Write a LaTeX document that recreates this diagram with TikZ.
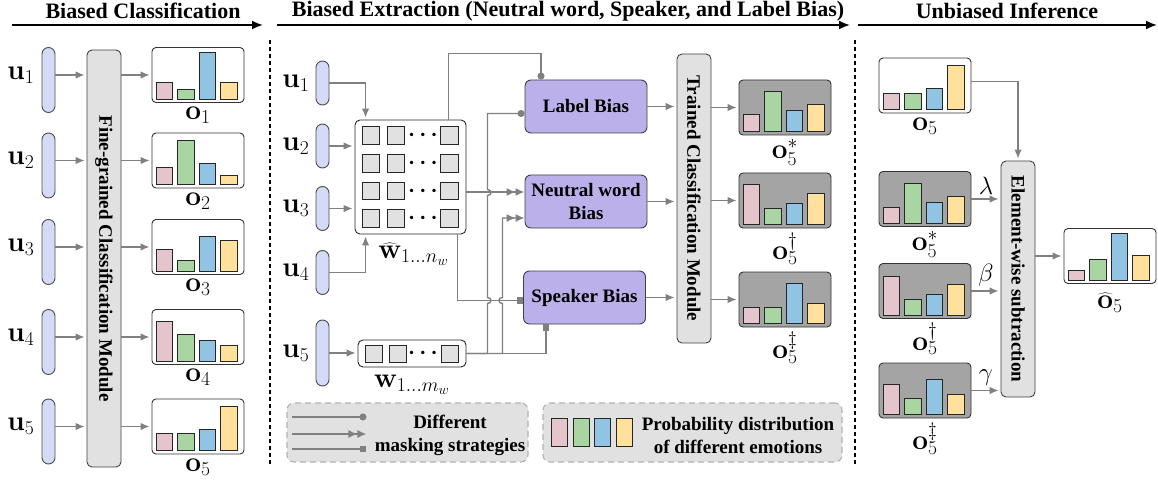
\RequirePackage{fix-cm}
\documentclass[tikz,border=0pt]{standalone}
\usepackage[no-math]{fontspec}
\setmainfont{Liberation Serif}
\usetikzlibrary{positioning, calc, arrows.meta}

\definecolor{pillblue}{HTML}{D4DBF6}
\definecolor{biaspurple}{HTML}{BBB0EA}
\definecolor{modgray}{HTML}{E1E1E1}
\definecolor{chartgray}{HTML}{A4A4A4}
\definecolor{linegray}{HTML}{808080}
\definecolor{emoP}{HTML}{E5C5CC}
\definecolor{emoG}{HTML}{A8D5A1}
\definecolor{emoB}{HTML}{91C3E2}
\definecolor{emoY}{HTML}{FFE09C}

% four emotion bars inside a chart node
\newcommand{\emobars}[5]{%
  \foreach \h/\col [count=\i from 0] in {#2/emoP,#3/emoG,#4/emoB,#5/emoY}
    \draw[bar, fill=\col] ($(#1.south west)+(4.5+21.5*\i,-4)$) rectangle ++(16.5,-\h);%
}

\begin{document}
\begin{tikzpicture}[x=1pt, y=-1pt,
  every node/.style={font=\fontsize{19}{23}\selectfont\bfseries},
  lab/.style={font=\fontsize{28}{30}\selectfont, inner sep=0pt},
  dots/.style={font=\fontsize{22}{24}\selectfont\boldmath, inner sep=0pt},
  greek/.style={font=\fontsize{25}{27}\selectfont, inner sep=1pt},
  ttl/.style={font=\fontsize{22}{24}\selectfont\bfseries},
  pill/.style={draw=black!70, fill=pillblue, rounded corners=6.5pt, minimum width=13pt, inner sep=0pt, line width=0.9pt},
  chart/.style={draw=black!80, fill=white, rounded corners=4pt, minimum width=92pt, minimum height=55pt, inner sep=0pt, line width=0.9pt},
  gchart/.style={chart, fill=chartgray},
  bar/.style={draw=black!85, line width=0.8pt},
  tok/.style={draw=black!85, fill=modgray, line width=0.8pt},
  module/.style={draw=black!75, fill=modgray, rounded corners=5pt, rotate=-90, minimum height=34pt, inner sep=0pt, line width=0.9pt},
  bias/.style={draw=black!75, fill=biaspurple, rounded corners=6pt, minimum width=122pt, minimum height=53pt, align=center, line width=0.9pt},
  legend/.style={draw=black!30, fill=modgray, dash pattern=on 6pt off 4pt, rounded corners=7pt, line width=1.1pt, minimum height=59pt},
  gline/.style={draw=linegray, line width=1.4pt},
  garrow/.style={gline, -{Latex[length=9pt,width=7.5pt]}, shorten >=2pt},
  dblarrow/.style={gline, -{Latex[length=9pt,width=8pt]Latex[length=9pt,width=8pt]}},
  dotend/.style={gline, -{Circle[length=7pt]}},
  sqend/.style={gline, -{Square[length=6.5pt]}},
  phase/.style={draw=black, line width=1.8pt, -{Latex[length=11pt,width=9pt]}},
  sep/.style={draw=black, line width=1.6pt, dash pattern=on 4pt off 3pt}]
\useasboundingbox (0,0) rectangle (1158,481);

% phase headers
\node[ttl] (ttl1) at (143,11) {Biased Classification};
\node[ttl] (ttl2) at (568,11) {Biased Extraction (Neutral word, Speaker, and Label Bias)};
\node[ttl] (ttl3) at (1007,11) {Unbiased Inference};
\coordinate (h0) at (12,25);  \coordinate (h1) at (263,25);
\coordinate (h2) at (277,25); \coordinate (h3) at (850,25);
\coordinate (h4) at (858,25); \coordinate (h5) at (1157,25);
\draw[phase] (h0) -- (h1);
\draw[phase] (h2) -- (h3);
\draw[phase] (h4) -- (h5);
\draw[sep] (270,40) -- (270,465);
\draw[sep] (855,40) -- (855,465);

% biased classification
\node[module, minimum width=417pt] (fcm) at (104,258.5) {Fine-grained Classification Module};
\foreach \i/\y in {1/75,2/160.5,3/247,4/337,5/426.5}{
  \node[pill, minimum height=65pt] (u\i) at (48.5,\y+5) {};
  \node[chart] (o\i) at (198,\y) {};
  \node[lab, below=4pt of o\i] (ol\i) {$\mathbf{o}_{\i}$};
  \path (u\i.west |- o\i) node[lab, left=7pt] (ul\i) {$\mathbf{u}_{\i}$};
  \draw[garrow] (u\i.east |- o\i) -- (fcm.south |- o\i);
  \draw[garrow] (fcm.north |- o\i) -- (o\i.west);
}
\emobars{o1}{16.7}{10}{47}{16.7}
\emobars{o2}{16.7}{44}{21}{9.3}
\emobars{o3}{21.7}{10.7}{35}{30.7}
\emobars{o4}{40}{26.7}{20.7}{15.7}
\emobars{o5}{16.7}{16.7}{21}{44.3}

% biased extraction
\foreach \i/\y/\h in {1/83/44,2/146/44,3/208.5/44,4/272.5/44,5/353/66}{
  \node[pill, minimum height=\h pt] (mu\i) at (322.5,\y) {};
  \node[lab, left=6pt of mu\i] (mul\i) {$\mathbf{u}_{\i}$};
}
\node[draw=black!85, fill=white, rounded corners=5pt, minimum width=111pt, minimum height=114pt, line width=0.9pt] (wmat) at (410.5,177) {};
\foreach \r in {0,...,3}{
  \foreach \dx in {-39.5,-14.5,39}
    \draw[tok] ($(wmat.center)+(\dx-8.75,-41.5+27.7*\r-8.75)$) rectangle ++(17.5,17.5);
  \node[dots] (dots\r) at ($(wmat.center)+(12.5,-41.5+27.7*\r)$) {$\cdots$};
}
\node[draw=black!85, fill=white, rounded corners=5pt, minimum width=108pt, minimum height=27pt, line width=0.9pt] (wseq) at (412,353.5) {};
\foreach \dx in {-38,-14,38}
  \draw[tok] ($(wseq.center)+(\dx-8.5,-8.5)$) rectangle ++(17,17);
\node[dots] (wdots) at ($(wseq.center)+(11,0)$) {$\cdots$};
\node[lab, below=8pt of wmat, xshift=3pt] (wmatl) {$\widehat{\mathbf{w}}_{1\ldots n_w}$};
\node[lab, below=7pt of wseq] (wseql) {$\mathbf{w}_{1\ldots m_w}$};

\draw[garrow] (mu1.east) -| ([xshift=11pt]wmat.north west);
\draw[garrow] (mu2.east) -- (mu2.east -| wmat.west);
\draw[garrow] (mu3.east) -- (mu3.east -| wmat.west);
\draw[garrow] (mu4.east) -| ([xshift=11pt]wmat.south west);
\draw[garrow] (mu5.east) -- (mu5.east -| wseq.west);

\node[bias] (lbias) at (586,106.5) {Label Bias};
\node[bias] (nbias) at (586,201.5) {Neutral word\\Bias};
\node[bias] (sbias) at (584.5,297.5) {Speaker Bias};
\node[module, minimum width=289pt] (tcm) at (694,198.5) {Trained Classification Module};
\node[gchart] (os) at (785,107.5) {};
\node[gchart] (od) at (785,200.5) {};
\node[gchart] (odd) at (785,299.5) {};
\node[lab, below=4pt of os] (osl) {$\mathbf{o}_5^{*}$};
\node[lab, below=4pt of od] (odl) {$\mathbf{o}_5^{\dagger}$};
\node[lab, below=4pt of odd] (oddl) {$\mathbf{o}_5^{\ddagger}$};
\emobars{os}{16.7}{40}{20.7}{26.7}
\emobars{od}{39.7}{15.7}{20.7}{30.7}
\emobars{odd}{16}{16}{40}{20}

% masking connectors
\draw[dotend] ([xshift=-18pt]wmat.north east) -- ++(0,-66) -| ([xshift=-45pt]lbias.north);
\draw[dotend] (wseq.east) -- ++(21,0) -- ++(0,-50) to[out=0,in=0,looseness=2] ++(0,-6)
  -- ++(0,-102) to[out=0,in=0,looseness=2] ++(0,-6) |- ($(lbias.west)+(0,7)$);
\draw[dblarrow] ($(wmat.east |- nbias.west)+(0,-9.5)$) -- ($(nbias.west)+(0,-9.5)$);
\draw[dblarrow] (wseq.east) -- ++(36,0) -- ++(0,-50) to[out=180,in=180,looseness=2] ++(0,-6)
  |- ($(nbias.west)+(0,16.5)$);
\draw[sqend] ([xshift=-9pt]wmat.south east) |- ($(sbias.west)+(0,3)$);
\draw[sqend] (wseq.east) -| ($(sbias.south)+(-38.5,0)$);

\foreach \b/\o in {lbias/os, nbias/od, sbias/odd}{
  \draw[garrow] (\b.east) -- (tcm.south |- \b);
  \draw[garrow] (tcm.north |- \o) -- (\o.west);
}

% legends
\node[legend, minimum width=241pt] (leg1) at (407.5,432.5) {};
\draw[dotend] ($(leg1.west)+(6,-15.5)$) -- ++(74,0);
\draw[dblarrow] ($(leg1.west)+(6,1.5)$) -- ++(74,0);
\draw[sqend] ($(leg1.west)+(6,16.5)$) -- ++(74,0);
\node[align=center] (legt1) at (450,435) {Different\\masking strategies};
\node[legend, minimum width=299pt] (leg2) at (692.5,432.5) {};
\foreach \col [count=\i from 0] in {emoP,emoG,emoB,emoY}
  \draw[bar, fill=\col] ($(leg2.west)+(9+21.6*\i,-14)$) rectangle ++(16,28);
\node[align=center] (legt2) at (738,435) {Probability distribution\\of different emotions};

% unbiased inference
\node[chart] (ro5) at (925,85.5) {};
\node[gchart] (ros) at (925,199) {};
\node[gchart] (rod) at (925,291) {};
\node[gchart] (rodd) at (925,390.5) {};
\node[lab, below=4pt of ro5] (ro5l) {$\mathbf{o}_5$};
\node[lab, below=4pt of ros] (rosl) {$\mathbf{o}_5^{*}$};
\node[lab, below=4pt of rod] (rodl) {$\mathbf{o}_5^{\dagger}$};
\node[lab, below=4pt of rodd] (roddl) {$\mathbf{o}_5^{\ddagger}$};
\emobars{ro5}{16}{16}{20.7}{44}
\emobars{ros}{16}{40}{21}{26.7}
\emobars{rod}{39}{16}{20.7}{30.7}
\emobars{rodd}{30}{16}{35}{20}
\node[module, minimum width=236pt] (esm) at (1018,279) {Element-wise subtraction};
\node[chart] (ohat) at (1110,256) {};
\node[lab, below=9pt of ohat] (ohatl) {$\widehat{\mathbf{o}}_5$};
\emobars{ohat}{9.3}{20.7}{46.7}{25}

\draw[garrow] ($(ro5.east)+(0,-4)$) -| (esm.west);
\draw[garrow] (ros.east) -- (esm.south |- ros) node[greek, midway, above=3pt] (lam) {$\lambda$};
\draw[garrow] (rod.east) -- (esm.south |- rod) node[greek, midway, above=3pt] (bet) {$\beta$};
\draw[garrow] (rodd.east) -- (esm.south |- rodd) node[greek, midway, above=3pt] (gam) {$\gamma$};
\draw[garrow] (esm.north |- ohat) -- (ohat.west);
\end{tikzpicture}
\end{document}
